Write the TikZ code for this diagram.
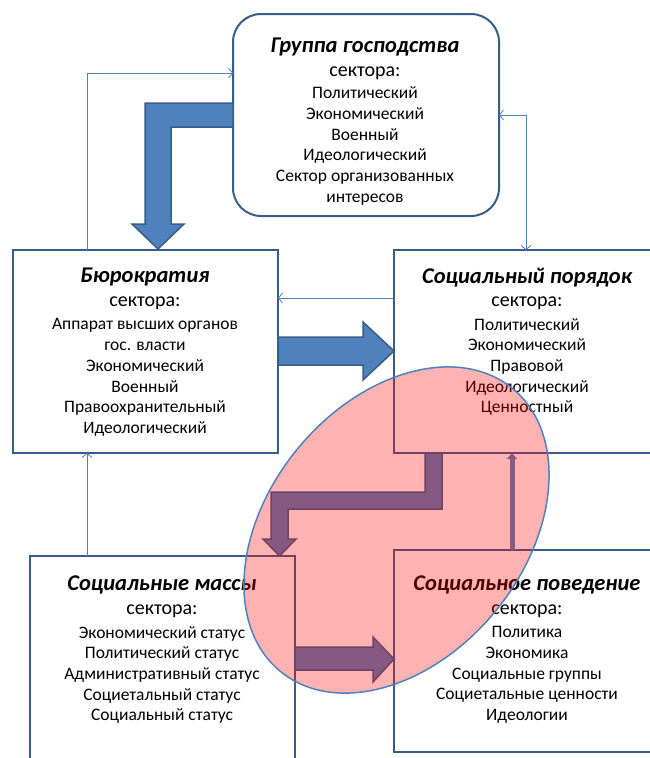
\documentclass[tikz,border=0pt]{standalone}
\usepackage{fontspec}
\setmainfont{Carlito}
\usetikzlibrary{arrows.meta,shapes.geometric}
\definecolor{bblue}{HTML}{4F81BD}
\definecolor{bdark}{HTML}{385D8A}
\tikzset{
  boxsq/.style={draw=bdark, line width=2pt, fill=white, inner sep=0pt, outer sep=0pt},
  boxrd/.style={boxsq, rounded corners=28pt},
  ttl/.style={font=\fontsize{22.5}{24}\selectfont\bfseries\itshape, inner sep=0pt},
  sek/.style={font=\fontsize{20}{22}\selectfont, inner sep=0pt},
  items/.style={font=\fontsize{17.5}{20.7}\selectfont, align=center, inner sep=0pt},
  thinc/.style={draw=bblue, line width=0.8pt},
  tipo/.style={-{Straight Barb[length=4pt,width=10pt]}},
  fatarrow/.style={fill=bblue, draw=bdark, line width=1.5pt, line join=miter}
}
\begin{document}
\begin{tikzpicture}[x=1pt,y=-1pt]
\useasboundingbox (0,0) rectangle (649,758);
% boxes
\node[boxrd, minimum width=266pt, minimum height=202pt] (top) at (366,115) {};
\node[boxsq, minimum width=265pt, minimum height=203pt] (bur) at (145.5,351.5) {};
\node[boxsq, minimum width=266pt, minimum height=203pt] (ord) at (527,351.5) {};
\node[boxsq, minimum width=265pt, minimum height=206pt] (mas) at (162.5,659) {};
\node[boxsq, minimum width=266pt, minimum height=202pt] (beh) at (527,651) {};
% texts top
\node[ttl] (topt) at (365,47) {Группа господства};
\node[sek] (tops) at (365,73) {сектора:};
\node[items] (topi) at (365,146) {Политический\\Экономический\\Военный\\Идеологический\\Сектор организованных\\интересов};
% bureaucracy
\node[ttl] (burt) at (145,277) {Бюрократия};
\node[sek] (burs) at (145,303) {сектора:};
\node[items] (buri) at (145,377.5) {Аппарат высших органов\\гос. власти\\Экономический\\Военный\\Правоохранительный\\Идеологический};
% social order
\node[ttl] (ordt) at (527,278) {Социальный порядок};
\node[sek] (ords) at (527,303) {сектора:};
\node[items] (ordi) at (527,367) {Политический\\Экономический\\Правовой\\Идеологический\\Ценностный};
% masses
\node[ttl] (mast) at (162,585) {Социальные массы};
\node[sek] (mass) at (162,611) {сектора:};
\node[items] (masi) at (162,675) {Экономический статус\\Политический статус\\Административный статус\\Социетальный статус\\Социальный статус};
% behaviour
\node[ttl] (beht) at (527,585) {Социальное поведение};
\node[sek] (behs) at (527,611) {сектора:};
\node[items] (behi) at (527,675) {Политика\\Экономика\\Социальные группы\\Социетальные ценности\\Идеологии};
% thin connectors
\draw[thinc,tipo] ([xshift=74pt]bur.north west) |- ([yshift=-59pt]top.north west);
\draw[thinc,{Straight Barb[length=4pt,width=10pt]}-{Straight Barb[length=4pt,width=10pt]}] ([yshift=-101pt]top.north east) -| ([xshift=-1pt]ord.north);
\draw[thinc,tipo] ([yshift=-48pt]ord.north west) -- ([yshift=-48pt]bur.north east);
\draw[thinc,tipo] ([xshift=57pt]mas.north west) -- ([xshift=74pt]bur.south west);
% fat arrows
\draw[fatarrow] (top.west |- 0,103) -- (145,103) -- (145,224) -- (132,224) -- (158,249) -- (184,224) -- (171,224) -- (171,127) -- (top.west |- 0,127) -- cycle;
\draw[fatarrow] (bur.east |- 0,337) -- (363,337) -- (363,322) -- (ord.west |- 0,351) -- (363,380) -- (363,365) -- (bur.east |- 0,365) -- cycle;
\draw[fatarrow] (425,453) -- (442,453) -- (442,509) -- (288,509) -- (288,539) -- (296,539) -- (279.5,556) -- (263,539) -- (271,539) -- (271,492) -- (425,492) -- cycle;
\draw[fatarrow] (mas.east |- 0,647) -- (373,647) -- (373,637) -- (beh.west |- 0,659) -- (373,682) -- (373,670) -- (mas.east |- 0,670) -- cycle;
\draw[draw=bblue, line width=5pt, -{Triangle[length=6pt,width=10pt]}] ([xshift=-15pt]beh.north) -- ([xshift=-15pt]ord.south);
% ellipse overlay
\node[ellipse, draw=bblue, line width=1.5pt, fill=red, fill opacity=0.3, draw opacity=1, minimum width=366pt, minimum height=256pt, inner sep=0pt, rotate=50.6] (ell) at (396.5,530) {};
\end{tikzpicture}
\end{document}
